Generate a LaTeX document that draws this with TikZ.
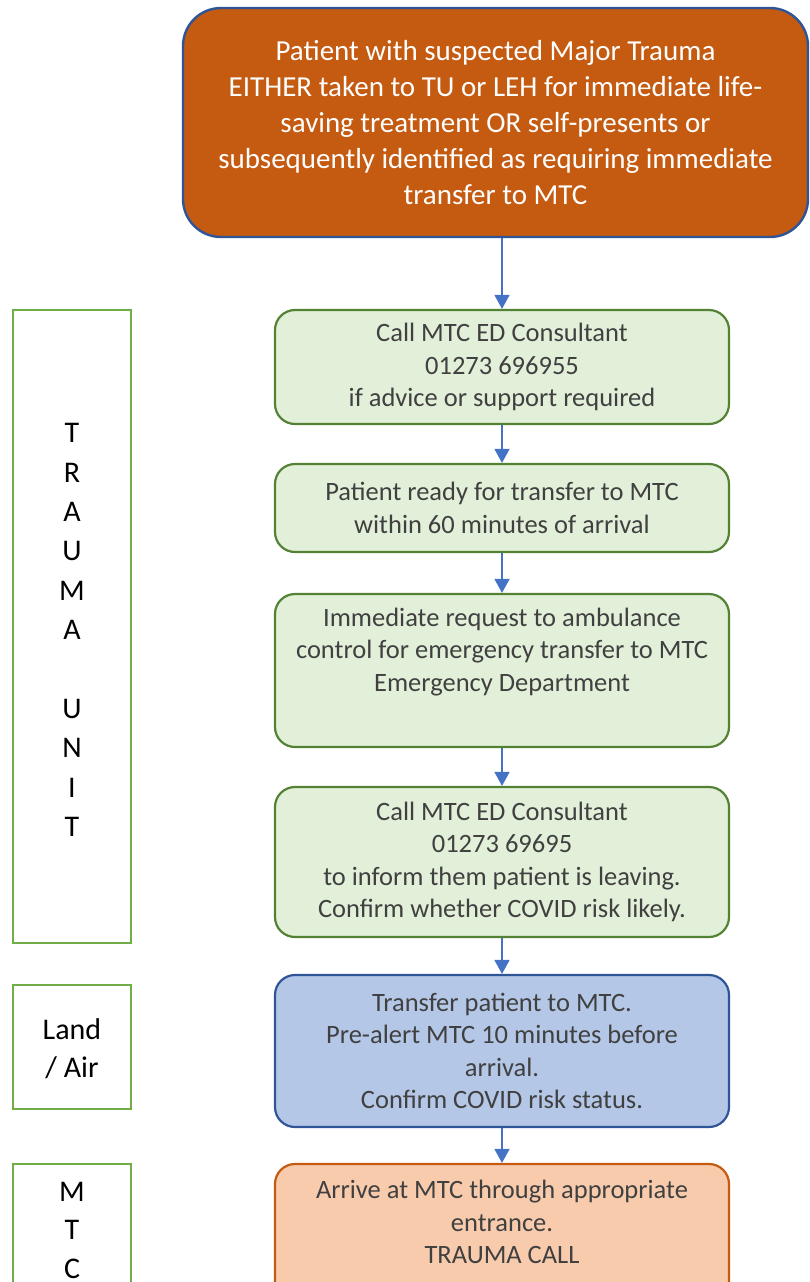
\documentclass[tikz,border=0pt]{standalone}
\usepackage{fontspec}
\setmainfont{Carlito}
\usetikzlibrary{arrows.meta}
\definecolor{topfill}{HTML}{C55A11}
\definecolor{blueborder}{HTML}{2F5597}
\definecolor{greenfill}{HTML}{E2F0D9}
\definecolor{greenborder}{HTML}{548235}
\definecolor{bluefill}{HTML}{B4C7E7}
\definecolor{orangefill}{HTML}{F8CBAD}
\definecolor{sideborder}{HTML}{70AD47}
\definecolor{arrowblue}{HTML}{4472C4}
\definecolor{textgray}{HTML}{404040}
\tikzset{
  flowbox/.style={draw=greenborder, fill=greenfill, line width=2.2pt, rounded corners=20pt,
    minimum width=454pt, align=center, text=textgray, inner sep=0pt,
    font=\fontsize{26.5}{32.5}\selectfont},
  sidebox/.style={draw=sideborder, line width=2.2pt, minimum width=118pt, inner sep=0pt},
  sidetext/.style={align=center, text=black, inner sep=0pt, font=\fontsize{30}{39.4}\selectfont},
  flowtext/.style={align=center, text=textgray, inner sep=0pt, font=\fontsize{26.5}{32.5}\selectfont},
  arr/.style={draw=arrowblue, line width=1.5pt, -{Triangle[width=15pt,length=14pt]}, arrowblue}
}
\begin{document}
\begin{tikzpicture}[x=1pt,y=-1pt]
\useasboundingbox (0,0) rectangle (809,1282);
% top box
\node[draw=blueborder, fill=topfill, line width=2.4pt, rounded corners=38pt,
  minimum width=625pt, minimum height=229pt, align=center, text=white, inner sep=0pt,
  font=\fontsize{29}{36}\selectfont] (top) at (495.5,122.5)
  {Patient with suspected Major Trauma\\
   EITHER taken to TU or LEH for immediate life-\\
   saving treatment OR self-presents or\\
   subsequently identified as requiring immediate\\
   transfer to MTC};
% flow boxes
\node[flowbox, minimum height=114pt] (g1) at (502,367)
  {Call MTC ED Consultant\\ 01273 696955\\ if advice or support required};
\node[flowbox, minimum height=88pt] (g2) at (502,508)
  {Patient ready for transfer to MTC\\ within 60 minutes of arrival};
\node[flowbox, minimum height=153pt] (g3) at (502,670.5)
  {Immediate request to ambulance\\ control for emergency transfer to MTC\\ Emergency Department\\ \strut};
\node[flowbox, minimum height=150pt] (g4) at (502,862)
  {Call MTC ED Consultant\\ 01273 69695\\ to inform them patient is leaving.\\ Confirm whether COVID risk likely.};
\node[flowbox, draw=blueborder, fill=bluefill, minimum height=152pt] (bl) at (502,1051)
  {Transfer patient to MTC.\\ Pre-alert MTC 10 minutes before\\ arrival.\\ Confirm COVID risk status.};
\node[flowbox, draw=topfill, fill=orangefill, minimum height=160pt] (ob) at (502,1244) {};
\node[flowtext] (obt) at (502,1222)
  {Arrive at MTC through appropriate\\ entrance.\\ TRAUMA CALL};
% arrows
\draw[arr] (g1.north |- top.south) -- (g1.north);
\draw[arr] (g1.south) -- (g2.north);
\draw[arr] (g2.south) -- (g3.north);
\draw[arr] (g3.south) -- (g4.north);
\draw[arr] (g4.south) -- (bl.north);
\draw[arr] (bl.south) -- (ob.north);
% side boxes
\node[sidebox, minimum height=633pt] (s1) at (72,626.5) {};
\node[sidetext] (s1t) at (72,630) {T\\ R\\ A\\ U\\ M\\ A\\[39.4pt] U\\ N\\ I\\ T};
\node[sidebox, minimum height=124pt] (s2) at (72,1047) {};
\node[sidetext, font=\fontsize{30}{38}\selectfont] (s2t) at (72,1049) {Land\\ / Air};
\node[sidebox, minimum height=160pt] (s3) at (72,1244) {};
\node[sidetext, font=\fontsize{30}{38.5}\selectfont] (s3t) at (72,1230) {M\\ T\\ C};
\end{tikzpicture}
\end{document}
